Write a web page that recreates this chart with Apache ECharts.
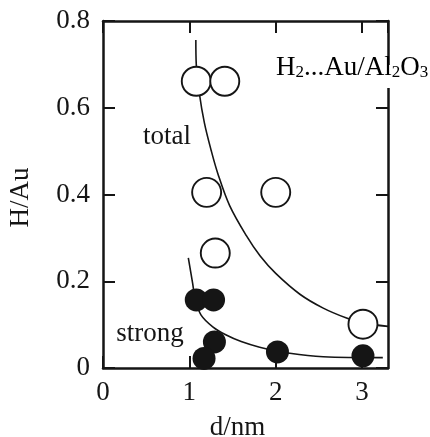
<!DOCTYPE html>
<html>
<head>
<meta charset="utf-8">
<script src="https://cdn.jsdelivr.net/npm/echarts@6/dist/echarts.min.js"></script>
<style>
  html, body { margin: 0; padding: 0; background: #fff; }
  #chart { width: 430px; height: 437px; }
</style>
</head>
<body>
<div id="chart"></div>
<script>
// measured points (d in nm, H/Au)
const totalD = [1.08, 1.41, 1.20, 2.00, 1.30, 3.01]
const totalH = [0.661, 0.661, 0.405, 0.405, 0.265, 0.101]
const strongD = [1.08, 1.28, 1.29, 1.17, 2.02, 3.01]
const strongH = [0.157, 0.157, 0.060, 0.022, 0.037, 0.028]

// hand-drawn trend curves
const totalCurveD = [1.075, 1.08, 1.115, 1.174, 1.252, 1.33, 1.465, 1.66, 1.82, 2.0, 2.28, 2.55, 2.82, 3.0, 3.3]
const totalCurveH = [0.756, 0.70, 0.634, 0.565, 0.502, 0.448, 0.375, 0.305, 0.258, 0.218, 0.170, 0.138, 0.115, 0.104, 0.096]
const strongCurveD = [0.988, 1.038, 1.07, 1.136, 1.271, 1.427, 1.60, 1.814, 2.163, 2.55, 3.24]
const strongCurveH = [0.254, 0.195, 0.157, 0.122, 0.095, 0.076, 0.061, 0.048, 0.034, 0.026, 0.024]

const xTicks = [0, 1, 2, 3]
const yTicks = [0, 0.2, 0.4, 0.6, 0.8]

const ink = '#151515'
const serif = 'Liberation Serif'

const zip = (a, b) => a.map((v, i) => [v, b[i]])

const chart = echarts.init(document.getElementById('chart'))

const frameAxis = {
  type: 'value',
  splitLine: { show: false },
  axisLine: { show: true, onZero: false, lineStyle: { color: ink, width: 2.5 } },
  axisTick: { show: true, inside: true, length: 12, lineStyle: { color: ink, width: 2 } }
}
const labelStyle = { fontFamily: serif, fontSize: 27, color: ink }

const option = {
  animation: false,
  backgroundColor: '#fff',
  grid: { left: 103, top: 21, width: 285, height: 347, containLabel: false, outerBoundsMode: 'none' },
  xAxis: [
    {
      ...frameAxis,
      position: 'bottom',
      min: 0,
      max: 3.3,
      interval: 1,
      axisLabel: { ...labelStyle, margin: 11, showMaxLabel: false,
        formatter: v => xTicks.includes(v) ? String(v) : '' },
      name: 'd/nm',
      nameLocation: 'middle',
      nameGap: 46,
      nameTextStyle: { ...labelStyle, padding: [0, 16, 0, 0] }
    },
    {
      ...frameAxis,
      position: 'top',
      min: 0,
      max: 3.3,
      interval: 1,
      axisLabel: { show: false }
    }
  ],
  yAxis: [
    {
      ...frameAxis,
      position: 'left',
      min: 0,
      max: 0.8,
      interval: 0.2,
      axisLabel: { ...labelStyle, margin: 13, padding: [5, 0, 0, 0],
        formatter: v => yTicks.includes(+v.toFixed(1)) ? (v === 0 ? '0' : v.toFixed(1)) : '' },
      name: 'H/Au',
      nameLocation: 'middle',
      nameGap: 69,
      nameRotate: 90,
      nameTextStyle: { ...labelStyle, padding: [0, 6, 0, 0] }
    },
    {
      ...frameAxis,
      position: 'right',
      min: 0,
      max: 0.8,
      interval: 0.2,
      axisLabel: { show: false }
    }
  ],
  series: [
    {
      type: 'line',
      data: zip(totalCurveD, totalCurveH),
      smooth: 0.35,
      showSymbol: false,
      lineStyle: { color: ink, width: 1.6 },
      z: 2
    },
    {
      type: 'line',
      data: zip(strongCurveD, strongCurveH),
      smooth: 0.35,
      showSymbol: false,
      lineStyle: { color: ink, width: 1.6 },
      z: 2
    },
    {
      type: 'scatter',
      data: zip(totalD, totalH),
      symbolSize: 29,
      itemStyle: { color: '#fff', borderColor: ink, borderWidth: 1.9, opacity: 1 },
      z: 3
    },
    {
      type: 'scatter',
      data: zip(strongD, strongH),
      symbolSize: 23,
      itemStyle: { color: ink, opacity: 1 },
      z: 4
    }
  ],
  graphic: [
    {
      type: 'text', x: 167, y: 137, z: 100,
      style: { text: 'total', font: '27px "Liberation Serif"', fill: ink, align: 'center', verticalAlign: 'middle' }
    },
    {
      type: 'text', x: 150, y: 334, z: 100,
      style: { text: 'strong', font: '27px "Liberation Serif"', fill: ink, align: 'center', verticalAlign: 'middle' }
    },
    // the label sits over the right frame line and breaks it
    {
      type: 'rect', z: 90,
      shape: { x: 382, y: 65, width: 12, height: 23 },
      style: { fill: '#fff' }
    },
    {
      type: 'text', x: 276, y: 68, z: 100,
      style: {
        text: '{n|H}{s|2}{n|...Au/Al}{s|2}{n|O}{s|3}',
        align: 'left',
        verticalAlign: 'middle',
        rich: {
          n: { fontFamily: serif, fontSize: 27, lineHeight: 27, color: ink, verticalAlign: 'bottom' },
          s: { fontFamily: serif, fontSize: 17, lineHeight: 17, color: ink, verticalAlign: 'bottom' }
        }
      }
    }
  ]
}

chart.setOption(option)
</script>
</body>
</html>
